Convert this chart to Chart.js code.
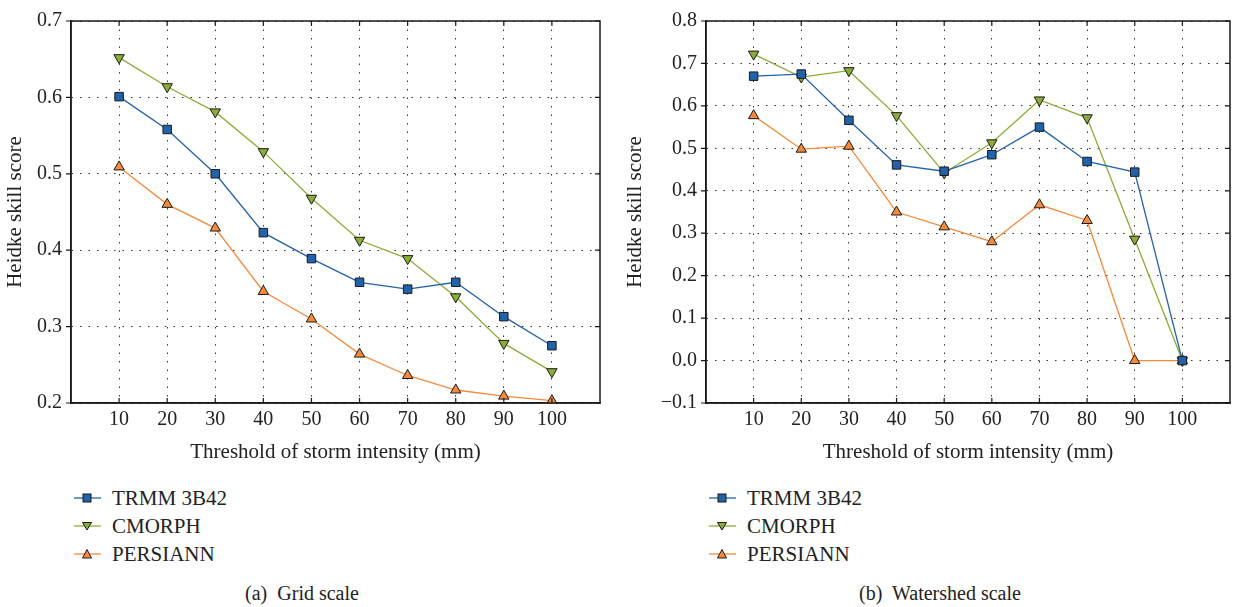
<!DOCTYPE html>
<html>
<head>
<meta charset="utf-8">
<script src="https://cdn.jsdelivr.net/npm/chart.js@4.4.1/dist/chart.umd.min.js"></script>
<style>
    body { margin: 0; background: #fff; width: 1237px; height: 607px; position: relative; overflow: hidden; font-family: "Liberation Serif", "DejaVu Serif", serif; color: #222; }
    .panel { position: absolute; top: 0; height: 470px; }
    .legend { position: absolute; font-size: 21px; }
    .legend-row { height: 28px; display: flex; align-items: center; }
    .legend-row svg { margin-right: 11px; }
    .caption { position: absolute; top: 582px; font-size: 20px; width: 400px; text-align: center; }
</style>
</head>
<body>
<div class="panel" style="left:0;width:615px;"><canvas id="gridChart"></canvas></div>
<div class="panel" style="left:620px;width:617px;"><canvas id="shedChart"></canvas></div>
<div class="legend" id="gridLegend" style="left:74px;top:484px;"></div>
<div class="legend" id="shedLegend" style="left:709px;top:484px;"></div>
<div class="caption" style="left:102px;">(a)&nbsp; Grid scale</div>
<div class="caption" style="left:740px;">(b)&nbsp; Watershed scale</div>

<script>
// x values (threshold, mm)
const thresholds = [10, 20, 30, 40, 50, 60, 70, 80, 90, 100];

// (a) grid scale
const gridTrmm     = [0.601, 0.558, 0.500, 0.423, 0.389, 0.358, 0.349, 0.358, 0.313, 0.275];
const gridCmorph   = [0.652, 0.614, 0.581, 0.529, 0.468, 0.413, 0.389, 0.339, 0.278, 0.241];
const gridPersiann = [0.509, 0.460, 0.429, 0.346, 0.310, 0.264, 0.236, 0.217, 0.209, 0.203];

// (b) watershed scale
const shedTrmm     = [0.670, 0.675, 0.566, 0.461, 0.446, 0.485, 0.550, 0.469, 0.444, 0.000];
const shedCmorph   = [0.722, 0.668, 0.683, 0.577, 0.442, 0.513, 0.614, 0.572, 0.286, 0.000];
const shedPersiann = [0.577, 0.498, 0.505, 0.350, 0.315, 0.280, 0.367, 0.330, 0.000, 0.000];

const gridYTicks = [0.2, 0.3, 0.4, 0.5, 0.6, 0.7];
const shedYTicks = [-0.1, 0.0, 0.1, 0.2, 0.3, 0.4, 0.5, 0.6, 0.7, 0.8];

const seriesNames = ['TRMM 3B42', 'CMORPH', 'PERSIANN'];
const seriesColors = ['#2262a8', '#8aac38', '#f58a3c'];
const seriesMarkers = ['rect', 'triangle', 'triangle'];
const seriesRotation = [0, 180, 0];

const font = "'Liberation Serif', 'DejaVu Serif', serif";

function makeDatasets(values) {
    return values.map((vals, i) => ({
        label: seriesNames[i],
        data: thresholds.map((t, j) => ({ x: t, y: vals[j] })),
        borderColor: seriesColors[i],
        backgroundColor: seriesColors[i],
        borderWidth: 1.3,
        pointStyle: seriesMarkers[i],
        pointRotation: seriesRotation[i],
        pointRadius: 6,
        pointBackgroundColor: seriesColors[i],
        pointBorderColor: '#1a1a1a',
        pointBorderWidth: 1,
        tension: 0,
        fill: false
    }));
}

// frame + inner tick marks
const framePlugin = {
    id: 'frame',
    afterDraw(chart) {
        const { ctx, chartArea: a, scales } = chart;
        ctx.save();
        ctx.strokeStyle = '#1a1a1a';
        ctx.lineWidth = 1.5;
        ctx.strokeRect(a.left, a.top, a.right - a.left, a.bottom - a.top);
        ctx.lineWidth = 1.2;
        ctx.beginPath();
        scales.x.ticks.forEach(t => {
            const px = scales.x.getPixelForValue(t.value);
            ctx.moveTo(px, a.top); ctx.lineTo(px, a.top + 5);
            ctx.moveTo(px, a.bottom); ctx.lineTo(px, a.bottom - 5);
        });
        scales.y.ticks.forEach(t => {
            const py = scales.y.getPixelForValue(t.value);
            ctx.moveTo(a.left - 5, py); ctx.lineTo(a.left, py);
            ctx.moveTo(a.right, py); ctx.lineTo(a.right - 5, py);
        });
        ctx.stroke();
        ctx.restore();
    }
};

function makeChart(id, values, yTicks, yAxisWidth, padTop, padRight) {
    const ctx = document.getElementById(id).getContext('2d');
    return new Chart(ctx, {
        type: 'line',
        data: { datasets: makeDatasets(values) },
        options: {
            responsive: true,
            maintainAspectRatio: false,
            animation: false,
            layout: { padding: { top: padTop, right: padRight, left: 0, bottom: 0 } },
            plugins: { legend: { display: false }, tooltip: { enabled: false } },
            scales: {
                x: {
                    type: 'linear',
                    min: 0,
                    max: 110,
                    afterBuildTicks: scale => { scale.ticks = thresholds.map(v => ({ value: v })); },
                    afterFit: scale => { scale.height = 67; },
                    grid: { color: '#333', lineWidth: 1, drawTicks: false },
                    border: { display: true, color: '#1a1a1a', width: 1.5, dash: [1.5, 7] },
                    ticks: { color: '#222', font: { family: font, size: 20 }, padding: 5, maxRotation: 0 },
                    title: { display: true, text: 'Threshold of storm intensity (mm)', color: '#222', font: { family: font, size: 21 }, padding: { bottom: 5 } }
                },
                y: {
                    type: 'linear',
                    min: yTicks[0],
                    max: yTicks[yTicks.length - 1],
                    afterBuildTicks: scale => { scale.ticks = yTicks.map(v => ({ value: v })); },
                    afterFit: scale => { scale.width = yAxisWidth; },
                    grid: { color: '#333', lineWidth: 1, drawTicks: false },
                    border: { display: true, color: '#1a1a1a', width: 1.5, dash: [1.5, 7] },
                    ticks: {
                        color: '#222',
                        font: { family: font, size: 20 },
                        padding: 9,
                        callback: v => v.toFixed(1).replace('-', '\u2212')
                    },
                    title: { display: true, text: 'Heidke skill score', color: '#222', font: { family: font, size: 21 }, padding: { top: 3 } }
                }
            }
        },
        plugins: [framePlugin]
    });
}

function buildLegend(elId) {
    const el = document.getElementById(elId);
    seriesNames.forEach((name, i) => {
        const row = document.createElement('div');
        row.className = 'legend-row';
        let marker;
        if (seriesMarkers[i] === 'rect') {
            marker = `<rect x="9" y="5" width="8" height="8" fill="${seriesColors[i]}" stroke="#1a1a1a" stroke-width="1"/>`;
        } else if (seriesRotation[i] === 180) {
            marker = `<polygon points="8.5,5.5 17.5,5.5 13,13" fill="${seriesColors[i]}" stroke="#1a1a1a" stroke-width="1"/>`;
        } else {
            marker = `<polygon points="8.5,13 17.5,13 13,4.5" fill="${seriesColors[i]}" stroke="#1a1a1a" stroke-width="1"/>`;
        }
        row.innerHTML = `<svg width="27" height="18"><line x1="0" y1="9" x2="27" y2="9" stroke="${seriesColors[i]}" stroke-width="1.6" opacity="0.8"/>${marker}</svg><span>${name}</span>`;
        el.appendChild(row);
    });
}

document.addEventListener('DOMContentLoaded', function() {
    makeChart('gridChart', [gridTrmm, gridCmorph, gridPersiann], gridYTicks, 71, 15, 15);
    makeChart('shedChart', [shedTrmm, shedCmorph, shedPersiann], shedYTicks, 86, 14, 1);
    buildLegend('gridLegend');
    buildLegend('shedLegend');
});
</script>
</body>
</html>
